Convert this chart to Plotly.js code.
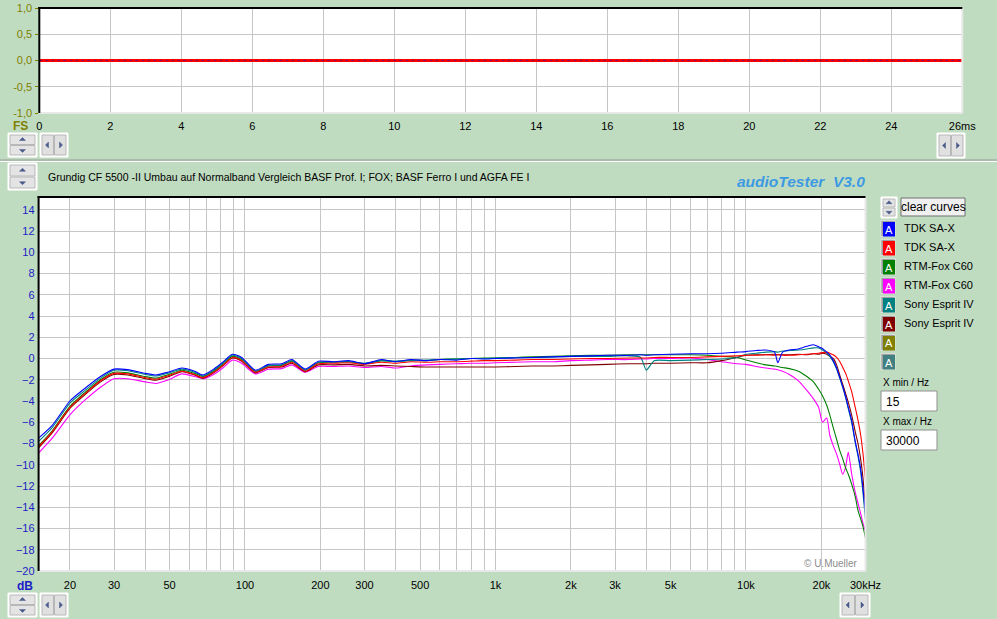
<!DOCTYPE html>
<html><head><meta charset="utf-8">
<script src="https://cdn.plot.ly/plotly-3.0.1.min.js"></script>
<style>html,body{margin:0;padding:0;background:#c0dcc0;overflow:hidden}</style>
</head><body><div id="chart" style="width:997px;height:619px"></div>
<script>
// ---------- data ----------
const timeMs = [0, 26];
const scopeLevel = [0, 0];

const freqHz = [15, 17, 20, 23, 26.5, 30, 34, 40, 44, 49,
  56, 63, 68, 75, 82, 89, 97, 110, 124, 140,
  154, 174, 196, 225, 260, 300, 350, 400, 460, 530,
  600, 700, 800, 900, 1000, 1200, 1400, 1700, 2000, 2400,
  2800, 3400, 3800, 4000, 4300, 5000, 6000, 7000, 8000, 9200,
  10000, 11000, 12000, 13000, 13400, 14000, 14900, 16200, 17500, 18600,
  19500, 20200, 21000, 21600, 22300, 23000, 23700, 24300, 25000, 25600,
  26400, 27300, 28000, 28700, 29300, 30000];

const tdkBlue = [-7.5, -6.3, -4.0, -2.8, -1.7, -1.0, -1.05, -1.4, -1.55, -1.3,
  -0.9, -1.2, -1.55, -1.0, -0.3, 0.4, 0.1, -1.1, -0.55, -0.5,
  -0.1, -1.0, -0.25, -0.3, -0.2, -0.5, -0.1, -0.3, -0.1, -0.2,
  -0.1, -0.15, 0.0, -0.05, 0.0, 0.05, 0.1, 0.15, 0.2, 0.25,
  0.3, 0.3, 0.35, 0.3, 0.35, 0.4, 0.45, 0.45, 0.5, 0.6,
  0.65, 0.75, 0.8, 0.6, -0.4, 0.6, 0.8, 0.9, 1.15, 1.3,
  1.1, 0.95, 0.6, 0.35, -0.2, -0.9, -1.8, -2.6, -3.6, -4.6,
  -5.8, -7.8, -9.0, -10.4, -12.2, -14.6];

const tdkRed = [-8.3, -6.9, -4.6, -3.3, -2.1, -1.4, -1.45, -1.8, -1.95, -1.65,
  -1.2, -1.5, -1.8, -1.3, -0.6, 0.1, -0.2, -1.3, -0.8, -0.75,
  -0.35, -1.2, -0.5, -0.45, -0.4, -0.55, -0.35, -0.45, -0.3, -0.35,
  -0.3, -0.3, -0.25, -0.2, -0.2, -0.15, -0.1, -0.1, -0.05, 0.0,
  0.0, 0.05, 0.05, 0.05, 0.1, 0.1, 0.1, 0.15, 0.2, 0.25,
  0.3, 0.3, 0.35, 0.3, 0.35, 0.3, 0.3, 0.35, 0.4, 0.45,
  0.5, 0.55, 0.6, 0.5, 0.35, 0.1, -0.3, -0.8, -1.4, -2.1,
  -3.1, -4.6, -5.8, -7.2, -8.9, -11.4];

const foxGreen = [-8.2, -6.8, -4.5, -3.2, -2.0, -1.3, -1.35, -1.7, -1.85, -1.55,
  -1.1, -1.4, -1.7, -1.2, -0.5, 0.2, -0.1, -1.2, -0.7, -0.65,
  -0.25, -1.1, -0.4, -0.35, -0.3, -0.5, -0.2, -0.3, -0.15, -0.2,
  -0.1, -0.05, 0.0, 0.05, 0.05, 0.1, 0.15, 0.2, 0.25, 0.3,
  0.3, 0.35, 0.35, 0.35, 0.35, 0.35, 0.35, 0.3, 0.2, 0.1,
  -0.15, -0.4, -0.6, -0.7, -0.75, -0.85, -0.95, -1.2, -1.7, -2.2,
  -2.9, -3.5, -4.4, -5.3, -6.5, -7.6, -8.7, -9.4, -10.3, -10.9,
  -11.8, -13.0, -14.3, -15.1, -15.8, -16.9];

const foxMagenta = [-8.9, -7.5, -5.3, -3.9, -2.7, -1.9, -1.9, -2.2, -2.35, -2.05,
  -1.45, -1.7, -1.9, -1.5, -0.85, -0.15, -0.45, -1.45, -1.0, -0.95,
  -0.6, -1.3, -0.75, -0.75, -0.7, -0.85, -0.75, -0.9, -0.7, -0.6,
  -0.55, -0.5, -0.45, -0.45, -0.4, -0.35, -0.3, -0.3, -0.2, -0.15,
  -0.1, -0.1, -0.05, -0.05, 0.0, 0.0, 0.05, -0.1, -0.3, -0.5,
  -0.55, -0.75, -0.9, -1.0, -1.05, -1.2, -1.5, -2.1, -3.0, -3.8,
  -4.6, -6.0, -5.6, -7.2, -8.2, -9.0, -10.0, -10.9, -10.2, -8.8,
  -10.8, -12.6, -13.6, -14.6, -15.5, -16.3];

const sonyTeal = [-7.8, -6.5, -4.2, -3.0, -1.85, -1.1, -1.15, -1.5, -1.65, -1.4,
  -1.0, -1.3, -1.65, -1.1, -0.4, 0.3, 0.0, -1.2, -0.65, -0.6,
  -0.2, -1.1, -0.35, -0.35, -0.3, -0.45, -0.2, -0.25, -0.2, -0.15,
  -0.1, -0.05, 0.0, 0.0, 0.05, 0.1, 0.1, 0.15, 0.2, 0.2,
  0.2, 0.25, 0.1, -1.1, -0.2, -0.2, -0.15, -0.1, -0.05, 0.1,
  0.4, 0.5, 0.6, 0.65, 0.6, 0.7, 0.75, 0.8, 0.9, 1.0,
  1.0, 0.8, 0.5, 0.2, -0.3, -1.0, -1.9, -2.7, -3.7, -4.7,
  -6.0, -7.9, -9.2, -10.7, -12.6, -15.2];

const sonyMaroon = [-8.4, -7.0, -4.7, -3.4, -2.2, -1.5, -1.55, -1.9, -2.05, -1.75,
  -1.25, -1.55, -1.85, -1.35, -0.65, 0.05, -0.25, -1.35, -0.85, -0.8,
  -0.45, -1.25, -0.6, -0.6, -0.55, -0.7, -0.65, -0.7, -0.75, -0.8,
  -0.8, -0.8, -0.8, -0.8, -0.8, -0.75, -0.7, -0.7, -0.65, -0.6,
  -0.55, -0.5, -0.5, -0.5, -0.45, -0.45, -0.4, -0.4, -0.2, 0.1,
  0.3, 0.35, 0.35, 0.4, 0.35, 0.35, 0.35, 0.4, 0.35, 0.45,
  0.4, 0.5, 0.4, 0.2, 0.0, -0.6, -1.6, -2.4, -3.3, -4.1,
  -5.3, -6.9, -8.0, -9.5, -11.2, -14.2];

const seriesNames = ['TDK SA-X', 'TDK SA-X', 'RTM-Fox C60', 'RTM-Fox C60', 'Sony Esprit IV', 'Sony Esprit IV', '', ''];
const seriesColors = ['#0000ff', '#ff0000', '#008000', '#ff00ff', '#008080', '#800000', '#808000', '#408080'];

const timeTickVals = [0, 2, 4, 6, 8, 10, 12, 14, 16, 18, 20, 22, 24, 26];
const timeTickText = ['0', '2', '4', '6', '8', '10', '12', '14', '16', '18', '20', '22', '24', '26ms'];
const levelTickVals = [-1, -0.5, 0, 0.5, 1];
const levelTickText = ['-1,0', '-0,5', '0,0', '0,5', '1,0'];
const freqLabelVals = [20, 30, 50, 100, 200, 300, 500, 1000, 2000, 3000, 5000, 10000, 20000, 30000];
const freqLabelText = ['20', '30', '50', '100', '200', '300', '500', '1k', '2k', '3k', '5k', '10k', '20k', '30kHz'];
const freqGridVals = [20, 30, 40, 50, 60, 70, 80, 90, 100, 200, 300, 400, 500, 600, 700, 800, 900,
  1000, 2000, 3000, 4000, 5000, 6000, 7000, 8000, 9000, 10000, 20000, 30000];
const dbTickVals = [-20, -18, -16, -14, -12, -10, -8, -6, -4, -2, 0, 2, 4, 6, 8, 10, 12, 14];

// ---------- layout helpers ----------
const W = 997, H = 619;
const px = x => x / W;
const py = y => 1 - y / H;
const shapes = [];
const annotations = [];
const FONT = 'Liberation Sans, Arial, sans-serif';

function hline(x0, x1, y, color, w) {
  shapes.push({type: 'line', xref: 'paper', yref: 'paper', x0: px(x0), x1: px(x1), y0: py(y), y1: py(y), line: {color: color, width: w}, layer: 'above'});
}
function vline(x, y0, y1, color, w) {
  shapes.push({type: 'line', xref: 'paper', yref: 'paper', x0: px(x), x1: px(x), y0: py(y0), y1: py(y1), line: {color: color, width: w}, layer: 'above'});
}
function rect(x0, y0, x1, y1, fill, lineColor, lw) {
  shapes.push({type: 'rect', xref: 'paper', yref: 'paper', x0: px(x0), x1: px(x1), y0: py(y1), y1: py(y0),
    fillcolor: fill, line: {color: lineColor, width: lw === undefined ? 1 : lw}, layer: 'above'});
}
function tri(pts, color) {
  const d = pts.map((p, i) => (i ? 'L' : 'M') + px(p[0]) + ',' + py(p[1])).join(' ') + ' Z';
  shapes.push({type: 'path', xref: 'paper', yref: 'paper', path: d, fillcolor: color, line: {color: color, width: 0.5}, layer: 'above'});
}
function text(x, y, t, opts) {
  annotations.push(Object.assign({xref: 'paper', yref: 'paper', x: px(x), y: py(y), text: t, showarrow: false,
    xanchor: 'left', yanchor: 'middle', font: {size: 11, color: '#000', family: FONT}}, opts || {}));
}
function upDown(x0, y0, x1, y1) {
  const ym = (y0 + y1) / 2;
  rect(x0, y0, x1, y1, '#ffffff', '#ffffff', 1);
  rect(x0 + 2, y0 + 2, x1 - 2, ym - 0.5, '#e4e4e4', '#b8b8b8', 1);
  rect(x0 + 2, ym + 0.5, x1 - 2, y1 - 2, '#e4e4e4', '#b8b8b8', 1);
  const cx = (x0 + x1) / 2;
  const a = (y0 + ym) / 2, b = (ym + y1) / 2;
  tri([[cx - 3, a + 1.5], [cx + 3, a + 1.5], [cx, a - 1.5]], '#4a5a8a');
  tri([[cx - 3, b - 1.5], [cx + 3, b - 1.5], [cx, b + 1.5]], '#4a5a8a');
}
function leftRight(x0, y0, x1, y1) {
  const xm = (x0 + x1) / 2;
  rect(x0, y0, x1, y1, '#ffffff', '#ffffff', 1);
  rect(x0 + 2, y0 + 2, xm - 0.5, y1 - 2, '#e0e0e0', '#b8b8b8', 1);
  rect(xm + 0.5, y0 + 2, x1 - 2, y1 - 2, '#e0e0e0', '#b8b8b8', 1);
  const cy = (y0 + y1) / 2;
  const a = (x0 + xm) / 2, b = (xm + x1) / 2;
  tri([[a + 1.5, cy - 3], [a + 1.5, cy + 3], [a - 1.5, cy]], '#4a5a8a');
  tri([[b - 1.5, cy - 3], [b - 1.5, cy + 3], [b + 1.5, cy]], '#4a5a8a');
}

// plot geometry (pixels)
const topBox = {x0: 39.3, x1: 962.3, y0: 8, y1: 113};
const botBox = {x0: 38.6, x1: 865.5, y0: 197, y1: 571};

// frames (sunken look)
function frame(g) {
  hline(g.x0, g.x1, g.y1, '#e8e8e8', 2);
  vline(g.x1, g.y0, g.y1, '#e8e8e8', 2);
  hline(g.x0 - 1, g.x1, g.y0, '#000000', 2);
  vline(g.x0, g.y0 - 1, g.y1, '#000000', 2);
}
frame(topBox);
frame(botBox);

// separator
hline(0, W, 160, '#9a9a9a', 1);
hline(0, W, 161.5, '#ffffff', 1);

// widgets
upDown(8, 133, 37, 157);
leftRight(40, 133, 68, 157);
leftRight(937, 133, 965, 158);
upDown(8, 163, 37, 190);
upDown(8, 593, 37, 617);
leftRight(40, 593, 68, 617);
leftRight(840, 593, 870, 617);
upDown(881, 197, 897, 218);

// clear curves button
rect(901, 198, 965, 216, '#f0f0f0', '#707070', 1);
text(933, 207.5, 'clear curves', {xanchor: 'center', font: {size: 12, color: '#000', family: FONT}});

// legend swatches
seriesColors.forEach((c, i) => {
  const y0 = 220.5 + 19 * i;
  rect(881, y0, 895, y0 + 16, '#a0a0a0', '#ffffff', 0.5);
  rect(883, y0 + 1.5, 895, y0 + 16, c, c, 0);
  text(889, y0 + 9, 'A', {xanchor: 'center', font: {size: 11, color: '#ffffff', family: FONT}});
  if (seriesNames[i]) text(902, y0 + 7.5, seriesNames[i], {font: {size: 11, color: '#000', family: FONT}});
});

// X min / max boxes
text(880.5, 382.5, 'X min / Hz', {font: {size: 10, color: '#000', family: FONT}});
rect(881, 391, 937, 411, '#ffffff', '#909090', 1);
text(884, 401.5, '15', {font: {size: 12, color: '#000', family: FONT}});
text(880.5, 421.5, 'X max / Hz', {font: {size: 10, color: '#000', family: FONT}});
rect(881, 430, 937, 450, '#ffffff', '#909090', 1);
text(884, 440.5, '30000', {font: {size: 12, color: '#000', family: FONT}});

// titles / labels
text(46, 177, 'Grundig CF 5500 -II Umbau auf Normalband Vergleich BASF Prof. I; FOX; BASF Ferro I und AGFA FE I',
  {font: {size: 10.5, color: '#000', family: FONT}});
text(867, 181.5, '<b><i>audioTester\u00a0\u00a0V3.0</i></b>', {xanchor: 'right',
  font: {size: 15.5, color: '#3d9ae2', family: FONT}});
text(860, 563.5, '\u00a9 U.Mueller', {xanchor: 'right', font: {size: 10, color: '#8c8c8c', family: FONT}});
text(20, 126, '<b>FS</b>', {xanchor: 'center', font: {size: 12, color: '#7f7f00', family: FONT}});
text(25, 585.5, '<b>dB</b>', {xanchor: 'center', font: {size: 12, color: '#1c1cc8', family: FONT}});

// ---------- traces ----------
const curveSets = [
  {y: foxMagenta, c: seriesColors[3], n: seriesNames[3]},
  {y: foxGreen, c: seriesColors[2], n: seriesNames[2]},
  {y: sonyMaroon, c: seriesColors[5], n: seriesNames[5]},
  {y: sonyTeal, c: seriesColors[4], n: seriesNames[4]},
  {y: tdkRed, c: seriesColors[1], n: seriesNames[1]},
  {y: tdkBlue, c: seriesColors[0], n: seriesNames[0]}
];
const traces = [
  {x: [15], y: [null], xaxis: 'x3', yaxis: 'y2', mode: 'lines', showlegend: false},
  {x: timeMs, y: scopeLevel, xaxis: 'x', yaxis: 'y', mode: 'lines', line: {color: '#ff0000', width: 3}, showlegend: false},
  {x: timeMs, y: scopeLevel, xaxis: 'x', yaxis: 'y', mode: 'lines', line: {color: 'rgba(70,0,140,0.55)', width: 1, dash: 'dot'}, showlegend: false}
].concat(curveSets.map(s => ({
  x: freqHz, y: s.y, name: s.n, xaxis: 'x2', yaxis: 'y2', mode: 'lines',
  line: {color: s.c, width: 1.1, shape: 'spline', smoothing: 0.6}, showlegend: false
})));

const gridC = '#c6c6c6';
const tickFont = {size: 11, color: '#000', family: FONT};
const layout = {
  width: W, height: H,
  margin: {l: 0, r: 0, t: 0, b: 0},
  paper_bgcolor: '#c0dcc0', plot_bgcolor: '#ffffff',
  showlegend: false, hovermode: false,
  font: {family: FONT, size: 11},
  xaxis: {domain: [px(topBox.x0), px(topBox.x1)], range: [0, 26], anchor: 'y',
    tickmode: 'array', tickvals: timeTickVals, ticktext: timeTickText,
    showgrid: true, gridcolor: gridC, gridwidth: 1, zeroline: false, showline: false,
    ticks: '', ticklabelstandoff: 5, tickfont: tickFont, fixedrange: true},
  yaxis: {domain: [py(topBox.y1), py(topBox.y0)], range: [-1, 1], anchor: 'x',
    tickmode: 'array', tickvals: levelTickVals, ticktext: levelTickText,
    showgrid: true, gridcolor: gridC, zeroline: false, showline: false,
    ticks: 'outside', ticklen: 3, tickcolor: '#7f7f00', ticklabelstandoff: 1,
    tickfont: {size: 11, color: '#7f7f00', family: FONT}, fixedrange: true},
  xaxis2: {type: 'log', domain: [px(botBox.x0), px(botBox.x1)], range: [Math.log10(15), Math.log10(30000)], anchor: 'y2',
    tickmode: 'array', tickvals: freqLabelVals, ticktext: freqLabelText,
    showgrid: false, zeroline: false, showline: false,
    ticks: '', ticklabelstandoff: 6, tickfont: tickFont, fixedrange: true},
  xaxis3: {type: 'log', domain: [px(botBox.x0), px(botBox.x1)], range: [Math.log10(15), Math.log10(30000)], anchor: 'y2',
    overlaying: 'x2', tickmode: 'array', tickvals: freqGridVals, showticklabels: false,
    showgrid: true, gridcolor: gridC, zeroline: false, showline: false, ticks: '', fixedrange: true},
  yaxis2: {domain: [py(botBox.y1), py(botBox.y0)], range: [-20, 15.2], anchor: 'x2',
    tickmode: 'array', tickvals: dbTickVals,
    showgrid: true, gridcolor: gridC, zeroline: false, showline: false,
    ticks: '', ticklabelstandoff: 3,
    tickfont: {size: 11, color: '#1c1cc8', family: FONT}, fixedrange: true},
  shapes: shapes,
  annotations: annotations
};

Plotly.newPlot('chart', traces, layout, {staticPlot: true, displayModeBar: false});
</script>
</body></html>
